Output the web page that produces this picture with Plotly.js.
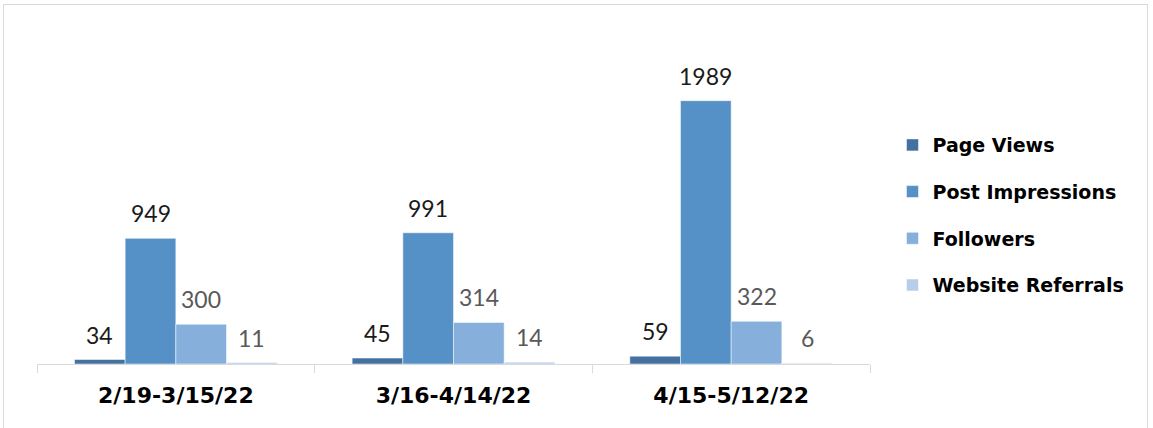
<!DOCTYPE html>
<html>
<head>
<meta charset="utf-8">
<script src="https://cdn.plot.ly/plotly-3.0.1.min.js"></script>
<style>
  html, body { margin: 0; padding: 0; background: #fff; }
  #wrap { position: relative; width: 1153px; height: 428px; }
  #chart { width: 1153px; height: 428px; }
  #frame { position: absolute; left: 3px; top: 4px; width: 1145px; height: 428px; border: 1px solid #d9d9d9; pointer-events: none; box-sizing: border-box; }
</style>
</head>
<body>
<div id="wrap"><div id="chart"></div><div id="frame"></div></div>
<script>
const categories = ['2/19-3/15/22', '3/16-4/14/22', '4/15-5/12/22'];
const seriesNames = ['Page Views', 'Post Impressions', 'Followers', 'Website Referrals'];
const pageViews = [34, 45, 59];
const postImpressions = [949, 991, 1989];
const followers = [300, 314, 322];
const websiteReferrals = [11, 14, 6];
const seriesValues = [pageViews, postImpressions, followers, websiteReferrals];
const seriesColors = ['#44719f', '#5591c6', '#86afdc', '#b7cdea'];
const labelColors = ['#1a1a1a', '#1a1a1a', '#595959', '#595959'];

const bargap = 0.27;
const nSeries = seriesValues.length;
const barW = (1 - bargap) / nSeries;

const traces = seriesValues.map((vals, i) => ({
  type: 'bar',
  name: seriesNames[i],
  x: categories,
  y: vals,
  legendgroup: 'g' + i,
  marker: { color: seriesColors[i], line: { color: '#ffffff', width: 0.5 } },
  hoverinfo: 'x+y+name'
}));

const annotations = [];
seriesValues.forEach((vals, si) => {
  vals.forEach((v, ci) => {
    annotations.push({
      xref: 'x', yref: 'y',
      x: ci + (si - (nSeries - 1) / 2) * barW,
      y: v,
      text: String(v),
      showarrow: false,
      yanchor: 'bottom',
      yshift: 9,
      font: { family: 'Lato, "Open Sans", sans-serif', size: 23, color: labelColors[si] }
    });
  });
});

const layout = {
  width: 1153, height: 428,
  margin: { l: 37, r: 283, t: 33, b: 64 },
  paper_bgcolor: '#ffffff', plot_bgcolor: '#ffffff',
  barmode: 'group',
  bargap: bargap,
  bargroupgap: 0,
  showlegend: true,
  legend: {
    x: 1.027, xanchor: 'left', y: 0.45, yanchor: 'middle',
    traceorder: 'grouped', tracegroupgap: 19,
    font: { family: '"DejaVu Sans", sans-serif', size: 19, color: '#000000', weight: 'bold' },
    itemclick: false
  },
  xaxis: {
    type: 'category',
    showline: true, linecolor: '#d9d9d9', linewidth: 1,
    ticks: 'outside', tickson: 'boundaries', ticklen: 8, tickcolor: '#d9d9d9',
    ticklabelstandoff: 12,
    showgrid: false, zeroline: false,
    tickfont: { family: '"DejaVu Sans", sans-serif', size: 22, color: '#000000', weight: 'bold' }
  },
  yaxis: {
    range: [0, 2500], visible: false, showgrid: false, zeroline: false, fixedrange: true
  },
  annotations: annotations
};

Plotly.newPlot('chart', traces, layout, { displayModeBar: false, staticPlot: true });
</script>
</body>
</html>
